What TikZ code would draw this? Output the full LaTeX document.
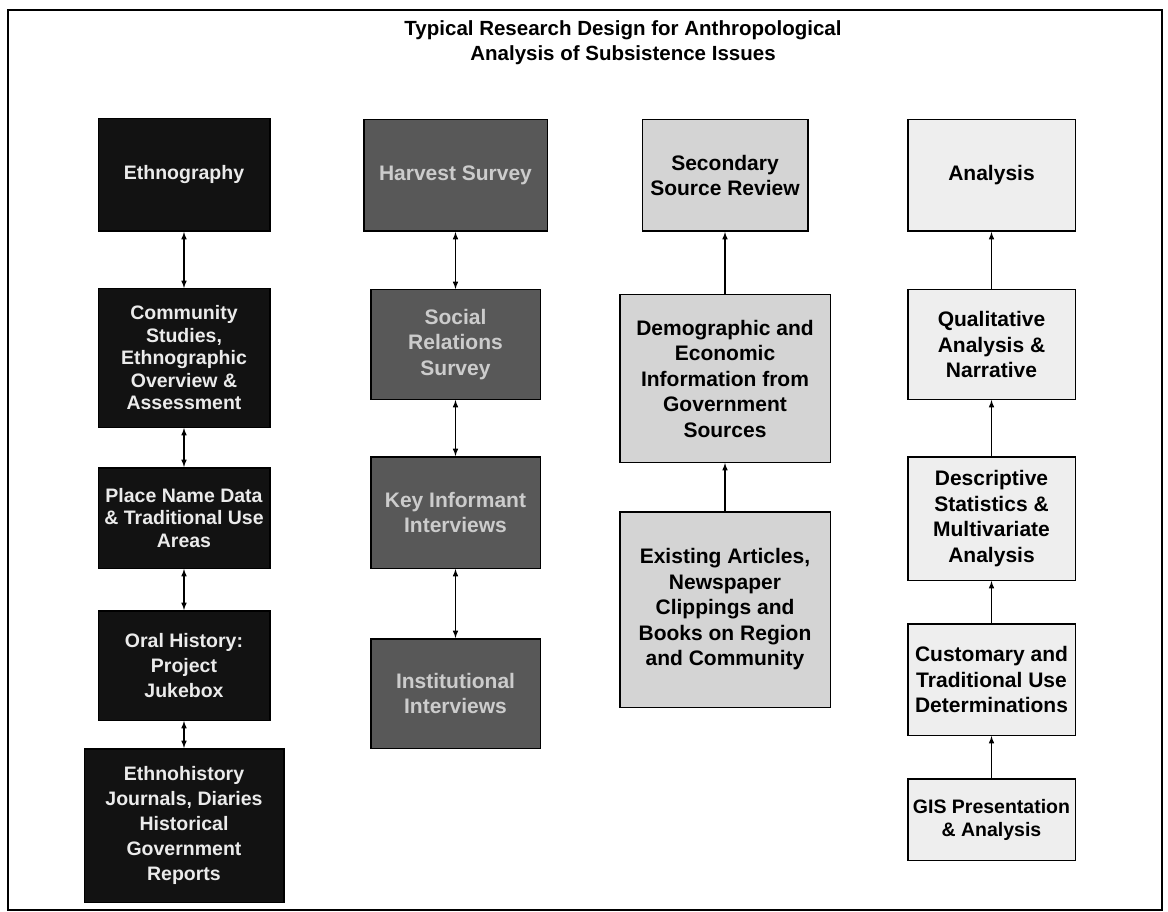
\documentclass[tikz,border=0pt]{standalone}
\usepackage{fontspec}
\setmainfont{Liberation Sans}
\usetikzlibrary{arrows}
\definecolor{harvgray}{RGB}{88,88,88}
\definecolor{srcgray}{RGB}{212,212,212}
\definecolor{anagray}{RGB}{238,238,238}
\tikzset{
	box/.style={draw=black, line width=1.5pt, align=center, inner sep=2pt,
			font=\bfseries\fontsize{21}{25.5}\selectfont},
	ethbox/.style={box, fill=black!93, text=white!92!black,
			font=\bfseries\fontsize{19.5}{25}\selectfont},
	survbox/.style={box, fill=harvgray, text=white!80!black},
	srcbox/.style={box, fill=srcgray, text=black},
	anabox/.style={box, fill=anagray, text=black},
	link/.style={<->, >=latex, line width=1.5pt},
	flow/.style={->, >=latex, line width=1.5pt}
}

\begin{document}
\begin{tikzpicture}[x=1pt, y=-1pt]
		\useasboundingbox (0, 0) rectangle (1168, 912);
		\draw [line width=1.2pt]	(8, 10) rectangle (1162, 910);

		\node [font=\bfseries\fontsize{20.5}{25}\selectfont, align=center] (title) at (623, 43)
			{Typical Research Design for Anthropological\\Analysis of Subsistence Issues};

		% ethnography column
		\node [ethbox, minimum width=171.5, minimum height=112.5] (ethno) at (184, 175) {Ethnography};
		\node [ethbox, minimum width=171.5, minimum height=138.5,
			font=\bfseries\fontsize{19.5}{22.5}\selectfont] (community) at (184, 358)
			{Community\\Studies,\\Ethnographic\\Overview \&\\Assessment};
		\node [ethbox, minimum width=171.5, minimum height=100.5,
			font=\bfseries\fontsize{19.5}{22.5}\selectfont] (placename) at (184, 518)
			{Place Name Data\\\& Traditional Use\\Areas};
		\node [ethbox, minimum width=171.5, minimum height=109.5] (oral) at (184, 665.5)
			{Oral History:\\Project\\Jukebox};
		\node [ethbox, minimum width=199.5, minimum height=153.5] (ethnohist) at (184, 825.5)
			{Ethnohistory\\Journals, Diaries\\Historical\\Government\\Reports};

		\draw [link]	(ethno) to (community);
		\draw [link]	(community) to (placename);
		\draw [link]	(placename) to (oral);
		\draw [link]	(oral) to (ethnohist);

		% survey column
		\node [survbox, minimum width=183.5, minimum height=111.5] (harvest) at (455.5, 175.5) {Harvest Survey};
		\node [survbox, minimum width=169.5, minimum height=109.5] (social) at (455.5, 344.5)
			{Social\\Relations\\Survey};
		\node [survbox, minimum width=169.5, minimum height=111.5] (keyinf) at (455.5, 512.5)
			{Key Informant\\Interviews};
		\node [survbox, minimum width=169.5, minimum height=109.5] (instit) at (455.5, 693.5)
			{Institutional\\Interviews};

		\draw [link]	(harvest) to (social);
		\draw [link]	(social) to (keyinf);
		\draw [link]	(keyinf) to (instit);

		% secondary sources column
		\node [srcbox, minimum width=165.5, minimum height=111.5] (secondary) at (725, 175.5)
			{Secondary\\Source Review};
		\node [srcbox, minimum width=210.5, minimum height=167.5] (demog) at (725, 378.5)
			{Demographic and\\Economic\\Information from\\Government\\Sources};
		\node [srcbox, minimum width=210.5, minimum height=195.5] (articles) at (725, 609.5)
			{Existing Articles,\\Newspaper\\Clippings and\\Books on Region\\and Community};

		\draw [flow]	(demog) to (secondary);
		\draw [flow]	(articles) to (demog);

		% analysis column
		\node [anabox, minimum width=167.5, minimum height=111.5] (analysis) at (991.5, 175.5) {Analysis};
		\node [anabox, minimum width=167.5, minimum height=109.5] (qualit) at (991.5, 344.5)
			{Qualitative\\Analysis \&\\Narrative};
		\node [anabox, minimum width=167.5, minimum height=123.5] (descr) at (991.5, 518.5)
			{Descriptive\\Statistics \&\\Multivariate\\Analysis};
		\node [anabox, minimum width=167.5, minimum height=111.5] (custom) at (991.5, 679.5)
			{Customary and\\Traditional Use\\Determinations};
		\node [anabox, minimum width=167.5, minimum height=81.5,
			font=\bfseries\fontsize{19.5}{23}\selectfont] (gis) at (991.5, 819.5)
			{GIS Presentation\\\& Analysis};

		\draw [flow]	(qualit) to (analysis);
		\draw [flow]	(descr) to (qualit);
		\draw [flow]	(custom) to (descr);
		\draw [flow]	(gis) to (custom);
	\end{tikzpicture}
\end{document}
